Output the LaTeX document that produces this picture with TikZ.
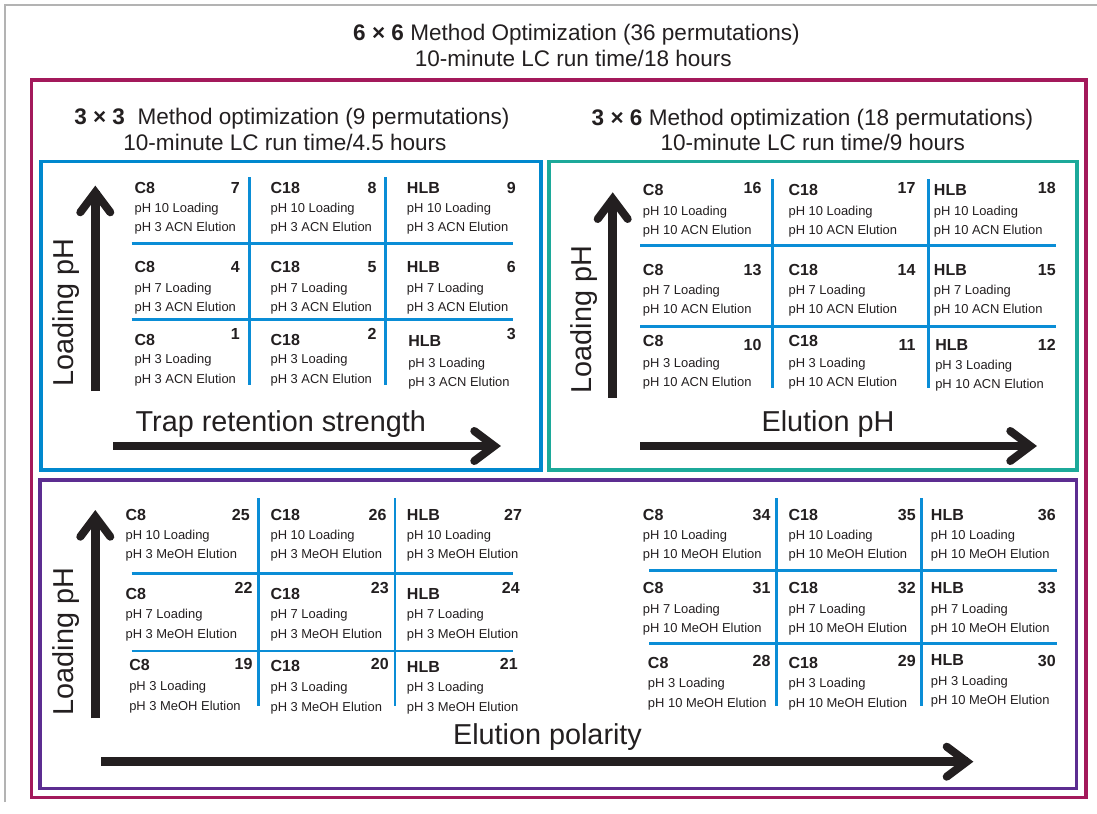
\documentclass[tikz,border=0pt]{standalone}
\usepackage{fontspec}
\setmainfont{Liberation Sans}
\definecolor{crim}{HTML}{A3195B}
\definecolor{fblue}{HTML}{0088CE}
\definecolor{fteal}{HTML}{1CA99A}
\definecolor{fpurp}{HTML}{5C2D91}
\definecolor{gline}{HTML}{0A8DD6}
\definecolor{ink}{HTML}{231F20}
\definecolor{outer}{HTML}{B3B3B3}
\tikzset{
  frame/.style={line width=2.5pt},
  grid/.style={gline, line width=2.2pt},
  shaft/.style={ink, line width=6.7pt},
  chev/.style={ink, line width=6pt, line cap=round, line join=miter},
  celltxt/.style={inner sep=0pt, text=ink, font=\fontsize{9.7}{11}\selectfont},
  cellhead/.style={inner sep=0pt, text=ink, font=\fontsize{12}{14}\selectfont\bfseries},
  axislabel/.style={inner sep=0pt, text=ink, font=\fontsize{21.6}{24}\selectfont},
  titletxt/.style={inner sep=0pt, text=ink, font=\fontsize{16.9}{20}\selectfont, anchor=base},
}
\begin{document}
\begin{tikzpicture}[x=0.75pt, y=-0.75pt]
\useasboundingbox (0,0) rectangle (1097,814);
\fill[white] (0,0) rectangle (1097,814);
% outer gray frame
\coordinate (g1) at (4.7,802);
\coordinate (g2) at (4.7,4.7);
\coordinate (g3) at (1097,4.7);
\draw[outer, line width=1.3pt] (g1) -- (g2) -- (g3);
% frames
\draw[frame, crim] (31.7,80) rectangle (1086,797.7);
\draw[frame, fblue] (41,161.5) rectangle (541,470);
\draw[frame, fteal] (549,161.5) rectangle (1077,470);
\draw[frame, fpurp] (40,480) rectangle (1076.7,788.3);
% titles
\node[titletxt] (t1) at (576.5,40.5) {\textbf{6 × 6} Method Optimization (36 permutations)};
\node[titletxt] (t2) at (573.3,66) {10-minute LC run time/18 hours};
\node[titletxt] (s1) at (291.9,124) {\textbf{3 × 3}\ \ Method optimization (9 permutations)};
\node[titletxt] (s2) at (285,150.7) {10-minute LC run time/4.5 hours};
\node[titletxt] (r1) at (812.5,125) {\textbf{3 × 6} Method optimization (18 permutations)};
\node[titletxt] (r2) at (812.8,150.7) {10-minute LC run time/9 hours};
% grid lines
\foreach \x in {249.3,385.7} \draw[grid] (\x,177) -- (\x,385);
\foreach \y in {243.3,319.3} \draw[grid] (131.7,\y) -- (512.7,\y);
\foreach \x in {772.7,928.3} \draw[grid] (\x,179) -- (\x,387.7);
\foreach \y in {245.7,326.7} \draw[grid] (640,\y) -- (1056,\y);
\foreach \x in {258.7,395} \draw[grid] (\x,498.3) -- (\x,706);
\foreach \y in {573.3,651} \draw[grid] (131.7,\y) -- (512.7,\y);
\foreach \x in {776.7,921.7} \draw[grid] (\x,498.3) -- (\x,706);
\foreach \y in {570.7,643.3} \draw[grid] (649.3,\y) -- (1056.7,\y);
% cells
\foreach \id/\x/\xr/\yn/\yk/\ya/\yb/\nm/\lo/\el in {
 7/134.3/240/193/193/212.2/231.8/C8/pH 10 Loading/pH 3 ACN Elution,
 8/270.3/376.7/193/193/212.2/231.8/C18/pH 10 Loading/pH 3 ACN Elution,
 9/406.7/516/193/193/212.2/231.8/HLB/pH 10 Loading/pH 3 ACN Elution,
 4/134.3/240/272.4/272.4/292.2/311.2/C8/pH 7 Loading/pH 3 ACN Elution,
 5/270.3/376.7/272.4/272.4/292.2/311.2/C18/pH 7 Loading/pH 3 ACN Elution,
 6/406.7/516/272.4/272.4/292.2/311.2/HLB/pH 7 Loading/pH 3 ACN Elution,
 1/134.3/240/345/339.7/363.8/383.8/C8/pH 3 Loading/pH 3 ACN Elution,
 2/270.3/376.7/345/339.7/363.8/383.8/C18/pH 3 Loading/pH 3 ACN Elution,
 3/408/516/346.7/339.7/367.2/386.2/HLB/pH 3 Loading/pH 3 ACN Elution,
 16/642.7/761.7/195/193/215.2/234.2/C8/pH 10 Loading/pH 10 ACN Elution,
 17/788.3/915.7/195/193/215.2/234.2/C18/pH 10 Loading/pH 10 ACN Elution,
 18/933.7/1056/195/193/215.2/234.2/HLB/pH 10 Loading/pH 10 ACN Elution,
 13/642.7/761.7/275/275/294.2/313.8/C8/pH 7 Loading/pH 10 ACN Elution,
 14/788.3/915.7/275/275/294.2/313.8/C18/pH 7 Loading/pH 10 ACN Elution,
 15/933.7/1056/275/275/294.2/313.8/HLB/pH 7 Loading/pH 10 ACN Elution,
 10/642.7/761.7/346.7/350.7/367.2/386.2/C8/pH 3 Loading/pH 10 ACN Elution,
 11/788.3/915.7/346.7/350.7/367.2/386.2/C18/pH 3 Loading/pH 10 ACN Elution,
 12/935/1056/350/350.7/369.5/388.8/HLB/pH 3 Loading/pH 10 ACN Elution,
 25/125.3/250/520/520/539.5/558.8/C8/pH 10 Loading/pH 3 MeOH Elution,
 26/270.3/386.7/520/520/539.5/558.8/C18/pH 10 Loading/pH 3 MeOH Elution,
 27/406.7/522.3/520/520/539.5/558.8/HLB/pH 10 Loading/pH 3 MeOH Elution,
 22/125.3/252.7/599/593.4/618.8/638.2/C8/pH 7 Loading/pH 3 MeOH Elution,
 23/270.3/389/599/593.4/618.8/638.2/C18/pH 7 Loading/pH 3 MeOH Elution,
 24/406.7/520/599/593.4/618.8/638.2/HLB/pH 7 Loading/pH 3 MeOH Elution,
 19/129/252.7/670.7/669.7/690.2/710.2/C8/pH 3 Loading/pH 3 MeOH Elution,
 20/270.3/389/671.7/669.7/691.2/711.2/C18/pH 3 Loading/pH 3 MeOH Elution,
 21/406.7/518/672.7/669.7/691.8/711.8/HLB/pH 3 Loading/pH 3 MeOH Elution,
 34/642.7/770.7/520/520/539.5/558.8/C8/pH 10 Loading/pH 10 MeOH Elution,
 35/788.3/916/520/520/539.5/558.8/C18/pH 10 Loading/pH 10 MeOH Elution,
 36/930.7/1056/520/520/539.5/558.8/HLB/pH 10 Loading/pH 10 MeOH Elution,
 31/642.7/770.7/593.4/593.4/613.2/632.2/C8/pH 7 Loading/pH 10 MeOH Elution,
 32/788.3/916/593.4/593.4/613.2/632.2/C18/pH 7 Loading/pH 10 MeOH Elution,
 33/930.7/1056/593.4/593.4/613.2/632.2/HLB/pH 7 Loading/pH 10 MeOH Elution,
 28/647.7/770.7/668/666.4/687.2/707.2/C8/pH 3 Loading/pH 10 MeOH Elution,
 29/788.3/916/668/666.4/687.2/707.2/C18/pH 3 Loading/pH 10 MeOH Elution,
 30/930.7/1056/665/666.4/685.2/704.2/HLB/pH 3 Loading/pH 10 MeOH Elution}{
  \node[cellhead, anchor=base west] (n\id) at (\x,\yn) {\nm};
  \node[cellhead, anchor=base east] (k\id) at (\xr,\yk) {\id};
  \node[celltxt, anchor=base west] (a\id) at (\x,\ya) {\lo};
  \node[celltxt, anchor=base west] (b\id) at (\x,\yb) {\el};
}
% axes: vertical
\foreach \nm/\x/\yb/\yt in {bv/95.3/391/183.3, tv/612.7/397.7/190, pv/95.3/718.3/507.7}{
  \coordinate (\nm0) at (\x,\yb);
  \coordinate (\nm1) at (\x,\yt+8);
  \draw[shaft] (\nm0) -- (\nm1);
  \draw[chev] (\x-15,\yt+29) -- (\x,\yt+9) -- (\x+15,\yt+29);
}
% axes: horizontal
\foreach \nm/\y/\xa/\xt in {bh/446/113.3/503.3, th/446/640/1039.3, ph/761.7/101/975.7}{
  \coordinate (\nm0) at (\xa,\y);
  \coordinate (\nm1) at (\xt-8,\y);
  \draw[shaft] (\nm0) -- (\nm1);
  \draw[chev] (\xt-29,\y-15) -- (\xt-9,\y) -- (\xt-29,\y+15);
}
% axis labels
\node[axislabel, rotate=90] (lp1) at (66.5,312.5) {Loading pH};
\node[axislabel, rotate=90] (lp2) at (584,319.5) {Loading pH};
\node[axislabel, rotate=90] (lp3) at (66,641.7) {Loading pH};
\node[axislabel, anchor=base] (xl1) at (280.8,431) {Trap retention strength};
\node[axislabel, anchor=base] (xl2) at (828,431) {Elution pH};
\node[axislabel, anchor=base] (xl3) at (547.5,744.3) {Elution polarity};
\end{tikzpicture}
\end{document}
